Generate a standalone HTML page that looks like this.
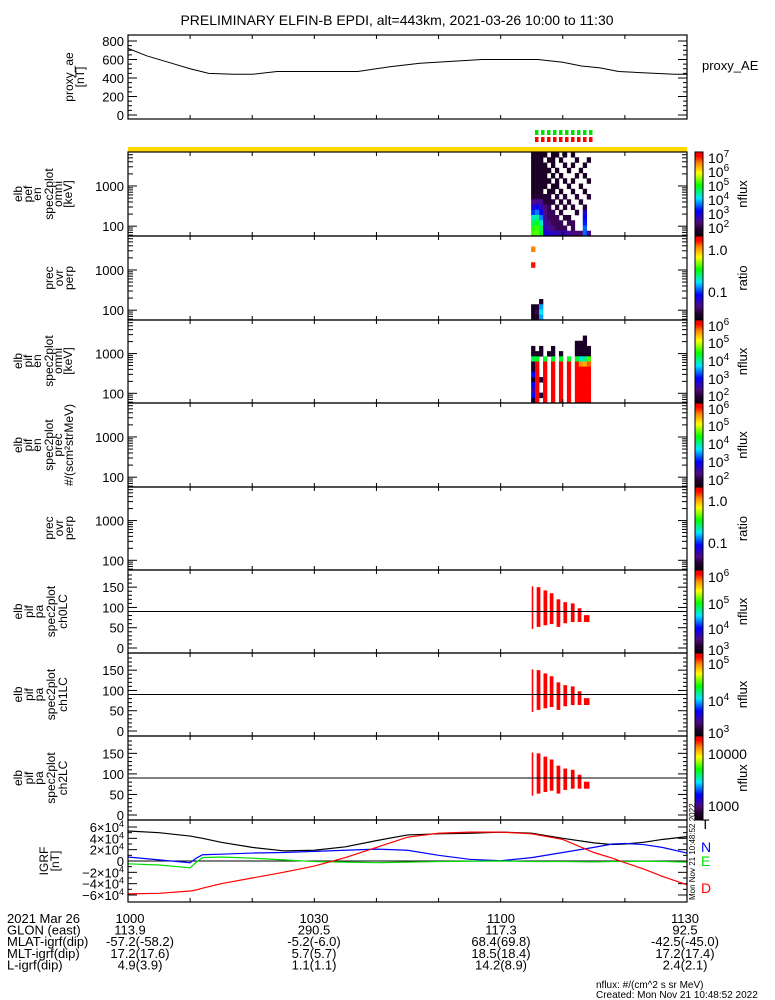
<!DOCTYPE html>
<html><head><meta charset="utf-8"><style>
html,body{margin:0;padding:0;background:#fff}
svg{display:block;font-family:"Liberation Sans",sans-serif}
</style></head><body>
<svg id="chart" width="775" height="1000" viewBox="0 0 775 1000" xmlns="http://www.w3.org/2000/svg">
<rect width="775" height="1000" fill="#fff"/>
<text x="397" y="25" font-size="14" text-anchor="middle">PRELIMINARY ELFIN-B EPDI, alt=443km, 2021-03-26 10:00 to 11:30</text>
<g id="g"></g>
</svg>
<script>
// ---------- data ----------
const aeTimes = [0,3,7,10,13,17,20,24,27,32,37,42,47,52,57,62,66,70,73,76,79,82,85,88,90];
const aeValues = [720,640,560,500,450,440,440,470,470,470,470,520,560,580,600,600,600,570,530,510,470,460,450,440,440];
const aeTicks = [0,200,400,600,800];
const timeTickLabels = ['1000','1030','1100','1130'];
const energyTicks = [100,1000];
const specT0 = 64.9, specDt = 0.64;
const pefOmni = [
[1.6,1.6,1.6,1.6,0,1.6,1.6,0,1.6,0,1.6,0,0,0,0],
[1.6,1.6,1.6,0,1.6,1.6,0,1.6,0,0,0,1.6,0,0,1.6],
[1.6,1.6,1.6,1.6,0,1.6,0,0,1.6,0,1.6,0,0,1.6,0],
[1.6,1.6,1.6,1.6,1.6,0,1.6,0,0,1.6,0,0,1.6,0,0],
[1.6,1.6,1.6,1.6,0,1.6,0,1.6,0,0,0,1.6,0,1.6,0],
[1.6,1.6,1.6,1.6,1.6,0,1.6,0,1.6,0,1.6,0,0,0,1.6],
[1.6,1.6,1.6,1.6,0,1.6,1.6,0,0,1.6,0,0,1.6,0,0],
[1.6,1.6,1.6,0,1.6,1.6,0,1.6,0,0,1.6,0,0,1.6,0],
[1.8,1.8,1.8,1.8,1.8,0,1.8,0,1.8,0,0,1.8,0,0,1.8],
[2.3,2.4,2.3,1.8,1.8,1.8,0,1.8,0,1.8,0,0,1.8,0,0],
[2.8,3.0,2.6,2.2,2,0,1.8,0,1.8,0,1.8,0,0,1.8,0],
[3.3,3.6,3.0,2.3,2,2,0,1.8,0,0,0,1.8,0,2.8,0],
[4.2,4.4,3.6,2.4,2,2,2,0,1.8,1.8,0,0,0,3,0],
[4.6,4.8,4.2,2.5,2.2,2,2,2,0,2,2,0,0,3.2,0],
[5.0,5.1,4.6,2.6,2.4,2.2,2,2,2,0,2,0,0,3.5,0],
[5.1,5.2,4.8,2.9,2.7,2.7,2.6,2.6,2.6,2.4,2.3,2.2,2.2,3.5,2.4]];
const pefRatio = [
[0,0,0,0,0,0,0,0,0,0,0,0,0,0,0],
[0,0,0,0,0,0,0,0,0,0,0,0,0,0,0],
[0.05,0,0,0,0,0,0,0,0,0,0,0,0,0,0],
[0,0,0,0,0,0,0,0,0,0,0,0,0,0,0],
[0,0,0,0,0,0,0,0,0,0,0,0,0,0,0],
[0.2,0,0,0,0,0,0,0,0,0,0,0,0,0,0],
[0,0,0,0,0,0,0,0,0,0,0,0,0,0,0],
[0,0,0,0,0,0,0,0,0,0,0,0,0,0,0],
[0,0,0,0,0,0,0,0,0,0,0,0,0,0,0],
[0,0,0,0,0,0,0,0,0,0,0,0,0,0,0],
[0,0,0,0,0,0,0,0,0,0,0,0,0,0,0],
[0,0,0,0,0,0,0,0,0,0,0,0,0,0,0],
[0,0,-1.6,0,0,0,0,0,0,0,0,0,0,0,0],
[-1.65,-1.6,-0.9,0,0,0,0,0,0,0,0,0,0,0,0],
[-1.65,-1.5,-0.8,0,0,0,0,0,0,0,0,0,0,0,0],
[-1.65,-1.6,-0.9,0,0,0,0,0,0,0,0,0,0,0,0]];
const pifOmni = [
[0,0,0,0,0,0,0,0,0,0,0,0,0,0,0],
[0,0,0,0,0,0,0,0,0,0,0,0,0,0,0],
[0,0,0,0,0,0,0,0,0,0,0,0,0,0,0],
[0,0,0,0,0,0,0,0,0,0,0,0,0,1.8,0],
[0,0,0,0,0,0,0,0,0,0,0,1.8,1.8,1.8,0],
[1.8,0,1.8,0,0,1.8,0,0,0,0,0,1.8,1.8,1.8,1.8],
[1.8,1.8,1.8,0,1.8,1.8,0,1.8,0,0,0,1.8,1.8,1.8,1.8],
[4.2,4.3,0,4.3,0,4.3,0,4.3,0,4.3,0,4.3,3.8,4.0,4.6],
[1.9,6.3,0,6.3,0,6.3,0,6.3,0,6.3,0,6.3,5.6,5.5,5.8],
[1.8,6.3,0,6.3,0,6.3,0,6.3,0,6.3,0,6.3,6.3,6.3,6.3],
[3,6.3,0,6.3,0,6.3,0,6.3,0,6.3,0,6.3,6.3,6.3,6.3],
[1.8,6.3,1.8,6.3,0,6.3,0,6.3,0,6.3,0,6.3,6.3,6.3,6.3],
[3,6.3,0,6.3,0,6.3,0,6.3,0,6.3,0,6.3,6.3,6.3,6.3],
[2.5,6.3,0,6.3,0,6.3,0,6.3,0,6.3,0,6.3,6.3,6.3,6.3],
[3,6.3,1.8,6.3,0,6.3,0,6.3,0,6.3,0,6.3,6.3,6.3,6.3],
[1.9,6.3,0,6.3,0,6.3,0,6.3,0,6.3,0,6.3,6.3,6.3,6.3]];
const paTimes = [65.0,65.8,66.9,67.9,69.0,70.1,71.3,72.4,73.4];
const paWidth = [0.25,0.6,0.6,0.6,0.6,0.6,0.6,0.6,0.9];
const paLo = [47,52,56,59,52,61,64,64,64];
const paHi = [152,150,142,135,120,113,110,98,81];
const paTicks = [0,50,100,150];
const igrfTimes = [0,5,10,11,12,15,20,25,30,35,40,45,50,55,60,65,70,75,78,80,83,86,90];
const igrfT = [53000,50000,44000,42000,40000,33000,24000,18000,19000,25000,36000,46000,48000,49000,51000,49000,40000,32000,29000,30000,33000,38000,43000];
const igrfN = [7000,2000,-3000,5000,11000,12000,14000,15000,17000,19000,21000,19000,10000,3000,500,6000,15000,24000,30000,31000,29000,24000,14000];
const igrfE = [-5000,-7000,-12000,-2000,6000,7000,5000,2000,-1000,-2000,-3000,-2000,-1000,-500,0,-1000,-1000,-1500,-1000,-800,-500,-800,-2000];
const igrfD = [-58000,-57000,-53000,-51000,-48000,-40000,-30000,-20000,-9000,6000,24000,42000,49000,51000,51000,48000,38000,15000,5000,-3000,-14000,-27000,-42000];
const igrfTicks = [-60000,-40000,-20000,0,20000,40000,60000];
const orbitRows = [
 ['2021 Mar 26','1000','1030','1100','1130'],
 ['GLON (east)','113.9','290.5','117.3','92.5'],
 ['MLAT-igrf(dip)','-57.2(-58.2)','-5.2(-6.0)','68.4(69.8)','-42.5(-45.0)'],
 ['MLT-igrf(dip)','17.2(17.6)','5.7(5.7)','18.5(18.4)','17.2(17.4)'],
 ['L-igrf(dip)','4.9(3.9)','1.1(1.1)','14.2(8.9)','2.4(2.1)']];

// ---------- helpers ----------
const NS='http://www.w3.org/2000/svg';
const G=document.getElementById('g');
const X0=128,X1=687;
function xT(t){return X0+(t/90)*(X1-X0);}
function mk(tag,attrs,parent){const e=document.createElementNS(NS,tag);for(const k in attrs)e.setAttribute(k,attrs[k]);(parent||G).appendChild(e);return e;}
const stops=[[0,[10,0,15]],[0.08,[35,0,50]],[0.16,[80,10,130]],[0.3,[0,0,255]],[0.45,[0,230,255]],[0.6,[0,255,0]],[0.75,[255,255,0]],[0.87,[255,130,0]],[0.95,[255,0,0]],[1,[255,0,0]]];
function cmap(f){f=Math.max(0,Math.min(1,f));for(let i=1;i<stops.length;i++){if(f<=stops[i][0]){const a=stops[i-1],b=stops[i];const u=(f-a[0])/(b[0]-a[0]||1);const c=a[1].map((v,j)=>Math.round(v+(b[1][j]-v)*u));return 'rgb('+c.join(',')+')';}}return 'rgb(255,0,0)';}

function timeTicks(top,bot){
 for(let m=0;m<=90;m+=10){const x=xT(m);
  let l=mk('line',{x1:x,y1:top,x2:x,y2:top+4,stroke:'#000'});
  
  
  l=mk('line',{x1:x,y1:bot,x2:x,y2:bot-4,stroke:'#000'});
  
  }
}
function frame(top,bot,name){
 const r=mk('rect',{x:X0,y:top,width:X1-X0,height:bot-top,fill:'none',stroke:'#000','stroke-width':1.2});
 
 
 timeTicks(top,bot);
}
function ytick(y,len){mk('line',{x1:X0,y1:y,x2:X0+len,y2:y,stroke:'#000'});mk('line',{x1:X1,y1:y,x2:X1-len,y2:y,stroke:'#000'});}
function ylab(y,txt,name){const t=mk('text',{x:X0-4,y:y+5,'font-size':13,'text-anchor':'end'});t.textContent=txt;
 
 }
function sideLabel(lines,xs,cy,name){
 lines.forEach((s,i)=>{const t=mk('text',{x:xs[i],y:cy,'font-size':12,'text-anchor':'middle',transform:'rotate(-90 '+xs[i]+' '+cy+')'});t.textContent=s;
  
  });
}
function logAxis(top,bot,lo,hi){
 const yv=v=>bot-(Math.log10(v)-lo)/(hi-lo)*(bot-top);
 for(let d=Math.floor(lo);d<=Math.ceil(hi);d++){for(let m=1;m<10;m++){const v=m*Math.pow(10,d);const lv=Math.log10(v);if(lv<lo||lv>hi)continue;ytick(yv(v),m==1?9:5);}}
 energyTicks.forEach(v=>{if(Math.log10(v)>=lo&&Math.log10(v)<=hi)ylab(yv(v),String(v),'energy-tick-label');});
}
function spec(mat,top,bot,vlo,vhi,name){
 const n=mat.length,h=(bot-top)/n;
 mat.forEach((row,i)=>row.forEach((v,j)=>{if(v===0)return;const x=xT(specT0+j*specDt),x2=xT(specT0+(j+1)*specDt);
  const r=mk('rect',{x:x,y:top+i*h,width:x2-x+0.3,height:h+0.3,fill:cmap((v-vlo)/(vhi-vlo))});
  
  }));
}
function colorbar(top,bot,labels,title,name){
 const id='cb'+top;const lg=mk('linearGradient',{id:id,x1:0,y1:1,x2:0,y2:0},mk('defs',{}));
 stops.forEach(s=>mk('stop',{offset:s[0],'stop-color':cmap(s[0])},lg));
 const r=mk('rect',{x:695,y:top,width:8,height:bot-top,fill:'url(#'+id+')',stroke:'#000','stroke-width':1});
 
 
 labels.forEach(l=>{const t=mk('text',{x:708,y:l[0]+6,'font-size':14});
  if(l[2]){t.textContent=l[1];const s=mk('tspan',{dy:-6,'font-size':10},t);s.textContent=l[2];}else t.textContent=l[1];
  
  });
 const cy=(top+bot)/2;const t=mk('text',{x:747,y:cy,'font-size':13,'text-anchor':'middle',transform:'rotate(-90 747 '+cy+')'});t.textContent=title;
 
 
}

// ---------- AE panel ----------
(function(){const top=35,bot=119;const yv=v=>115-(v/800)*74;
 for(let v=0;v<=800;v+=50)ytick(yv(v),v%200==0?9:4);
 aeTicks.forEach(v=>ylab(yv(v),String(v),'ae-tick-label'));
 const p=mk('polyline',{points:aeTimes.map((t,i)=>xT(t)+','+yv(aeValues[i])).join(' '),fill:'none',stroke:'#000','stroke-width':1});
 
 
 frame(top,bot,'ae-panel');
 sideLabel(['proxy_ae','[nT]'],[73,84],77,'ae-axis-title');
 const t=mk('text',{x:702,y:70,'font-size':13});t.textContent='proxy_AE';
 
 
})();

// ---------- flags ----------
(function(){for(let i=0;i<10;i++){const x=535+i*6;
 let r=mk('rect',{x:x,y:130,width:3.5,height:5,fill:'#00e000'});
 
 
 r=mk('rect',{x:x,y:137,width:3.5,height:5,fill:'#ff0000'});
 
 }
 const y=mk('rect',{x:X0,y:147,width:X1-X0,height:5,fill:'#ffd800'});
 
 
})();

// ---------- energy panels ----------
const eLo=Math.log10(57),eHi=Math.log10(7000);
function energyPanel(top,bot,mat,vlo,vhi,name){if(mat)spec(mat,top,bot,vlo,vhi,name);logAxis(top,bot,eLo,eHi);frame(top,bot,name);}
energyPanel(152,236,pefOmni,1.3,7.3,'pef-omni');
sideLabel(['elb','pef','en','spec2plot','omni','[keV]'],[22,32,41,53,62,72],194,'pef-omni-title');
colorbar(152,236,[[157,'10','7'],[171,'10','6'],[185,'10','5'],[199,'10','4'],[213,'10','3'],[227,'10','2']],'nflux','pef-omni');
energyPanel(236,320,pefRatio,-1.73,0.32,'pef-ratio');
sideLabel(['prec','ovr','perp'],[53,63,73],278,'pef-ratio-title');
colorbar(236,320,[[249,'1.0'],[291,'0.1']],'ratio','pef-ratio');
energyPanel(320,403,pifOmni,1.55,6.3,'pif-omni');
sideLabel(['elb','pif','en','spec2plot','omni','[keV]'],[22,32,41,53,62,72],361,'pif-omni-title');
colorbar(320,403,[[325,'10','6'],[342,'10','5'],[360,'10','4'],[378,'10','3'],[395,'10','2']],'nflux','pif-omni');
energyPanel(403,487,null,0,1,'pif-prec');
sideLabel(['elb','pif','en','spec2plot','prec','#/(scm\u00b2strMeV)'],[22,32,41,53,62,73],445,'pif-prec-title');
colorbar(403,487,[[408,'10','6'],[425,'10','5'],[443,'10','4'],[461,'10','3'],[479,'10','2']],'nflux','pif-prec');
energyPanel(487,570,null,0,1,'pif-ratio');
sideLabel(['prec','ovr','perp'],[53,63,73],528,'pif-ratio-title');
colorbar(487,570,[[500,'1.0'],[542,'0.1']],'ratio','pif-ratio');

// ---------- pitch-angle panels ----------
function paPanel(top,bot,name,cbl){
 const yv=a=>bot-5-(a/180)*(bot-top-10);
 for(let a=0;a<=180;a+=10)ytick(yv(a),a%50==0?9:4);
 paTicks.forEach(a=>ylab(yv(a),String(a),'pitch-angle-tick-label'));
 paTimes.forEach((t,i)=>{const x=xT(t),x2=xT(t+paWidth[i]);
  const r=mk('rect',{x:x,y:yv(paHi[i]),width:x2-x,height:yv(paLo[i])-yv(paHi[i]),fill:'#ff0000'});
  
  });
 const l=mk('line',{x1:X0,y1:yv(90),x2:X1,y2:yv(90),stroke:'#000','stroke-width':1});
 
 
 frame(top,bot,name);
 const cy=(top+bot)/2;
 sideLabel(['elb','pif','pa','spec2plot',name.replace('pa-','')],[22,33,43,55,67],cy,name+'-title');
 colorbar(top,bot,cbl[0],'nflux',name);
}
paPanel(570,653,'pa-ch0LC',[[[576,'10','6'],[603,'10','5'],[628,'10','4'],[649,'10','3']]]);
paPanel(653,736,'pa-ch1LC',[[[663,'10','5'],[700,'10','4'],[732,'10','3']]]);
paPanel(736,820,'pa-ch2LC',[[[753,'10000'],[805,'1000']]]);

// ---------- IGRF panel ----------
(function(){const top=820,bot=902;const yv=v=>861-v/60000*34;
 for(let v=-60000;v<=60000;v+=10000)ytick(yv(v),v%20000==0?9:4);
 igrfTicks.forEach(v=>{const t=mk('text',{x:X0-4,y:yv(v)+5,'font-size':13,'text-anchor':'end'});
  if(v===0)t.textContent='0';else{t.textContent=(v<0?'\u2212':'')+Math.abs(v/10000)+'\u00d710';const s=mk('tspan',{dy:-5,'font-size':9},t);s.textContent='4';}
  
  });
 const z=mk('line',{x1:X0,y1:861,x2:X1,y2:861,stroke:'#000'});
 
 
 [[igrfT,'#000','T'],[igrfN,'#0000ff','N'],[igrfE,'#00dd00','E'],[igrfD,'#ff0000','D']].forEach(s=>{
  const p=mk('polyline',{points:igrfTimes.map((t,i)=>xT(t)+','+yv(s[0][i])).join(' '),fill:'none',stroke:s[1],'stroke-width':1.2});
  
  });
 frame(top,bot,'igrf-panel');
 sideLabel(['IGRF','[nT]'],[48,59],861,'igrf-axis-title');
 [['T','#000',829],['N','#0000ff',852],['E','#00dd00',866],['D','#ff0000',893]].forEach(l=>{const t=mk('text',{x:701,y:l[2],'font-size':14,fill:l[1]});t.textContent=l[0];
  
  });
 const d=mk('text',{x:695,y:900,'font-size':8,transform:'rotate(-90 695 900)'});d.textContent='Mon Nov 21 10:48:52 2022';
 
 
})();

// ---------- orbit table ----------
(function(){const cols=[130,314,501,685];
 orbitRows.forEach((row,i)=>{const y=923+i*11.6;
  const t=mk('text',{x:7,y:y,'font-size':13});t.textContent=row[0];
  
  
  for(let j=1;j<5;j++){const v=mk('text',{x:cols[j-1]+(i>1&&j==1?10:0),y:y,'font-size':13,'text-anchor':'middle'});v.textContent=row[j];
   
   }});
 let f=mk('text',{x:596,y:988,'font-size':10});f.textContent='nflux: #/(cm^2 s sr MeV)';
 
 
 f=mk('text',{x:596,y:998,'font-size':10});f.textContent='Created: Mon Nov 21 10:48:52 2022';
 
 
})();
</script>
</body></html>
